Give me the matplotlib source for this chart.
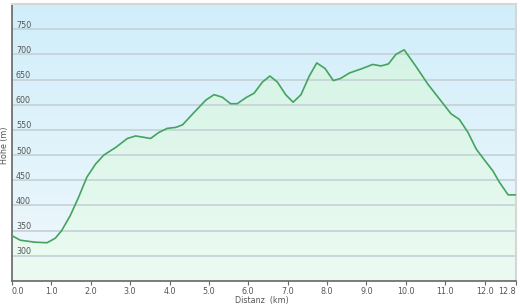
import matplotlib
matplotlib.use("Agg")
import matplotlib.pyplot as plt
import numpy as np
from matplotlib.colors import LinearSegmentedColormap

# Höhenprofil, Werte
distanz = [0.0, 0.21, 0.59, 0.89, 1.1, 1.26, 1.48, 1.69, 1.9, 2.12, 2.33, 2.63,
           2.93, 3.14, 3.52, 3.73, 3.94, 4.16, 4.33, 4.58, 4.92, 5.13, 5.34, 5.55,
           5.72, 5.94, 6.15, 6.36, 6.55, 6.74, 6.95, 7.14, 7.34, 7.55, 7.74, 7.95,
           8.16, 8.34, 8.57, 8.9, 9.16, 9.37, 9.56, 9.75, 9.96, 10.26, 10.56, 10.86,
           11.15, 11.36, 11.58, 11.79, 12.0, 12.21, 12.38, 12.6, 12.8]
hoehe = [340, 331, 327, 326, 335, 350, 380, 416, 456, 482, 500, 515,
         533, 538, 533, 545, 553, 555, 560, 581, 609, 620, 615, 602,
         602, 614, 623, 645, 657, 645, 620, 605, 620, 657, 683, 672,
         648, 652, 663, 672, 680, 677, 681, 700, 709, 676, 641, 611,
         582, 571, 545, 512, 490, 469, 446, 421, 421]

y_ticks = [300, 350, 400, 450, 500, 550, 600, 650, 700, 750]
x_ticks = [0, 1, 2, 3, 4, 5, 6, 7, 8, 9, 10, 11, 12, 12.8]
x_labels = ["0.0", "1.0", "2.0", "3.0", "4.0", "5.0", "6.0", "7.0", "8.0",
            "9.0", "10.0", "11.0", "12.0", "12.8"]

x0, x1 = 0, 12.8
y0, y1 = 250, 800

fig = plt.figure(figsize=(5.2, 3.06), dpi=100)
ax = fig.add_axes([12/520, 25/306, 504/520, 277/306])
ax.set_xlim(x0, x1)
ax.set_ylim(y0, y1)

# hintergrund: verlauf blau oben -> hell unten
bg = LinearSegmentedColormap.from_list("bg", ["#f0f8fc", "#d0eefa"])
grad = np.linspace(0, 1, 256).reshape(-1, 1)
ax.imshow(grad, cmap=bg, aspect="auto", origin="lower",
          extent=[x0, x1, y0, y1], zorder=0)

# fläche unter der kurve: grüner verlauf
gr = LinearSegmentedColormap.from_list("gr", ["#ecfbf2", "#d5f4e5"])
img = ax.imshow(grad, cmap=gr, aspect="auto", origin="lower",
                extent=[x0, x1, y0, max(hoehe)], zorder=1)
poly = ax.fill_between(distanz, hoehe, y0, color="none", lw=0)
img.set_clip_path(poly.get_paths()[0], transform=ax.transData)

for v in y_ticks:
    ax.axhline(v, color="#c6d4d9", lw=1.3, zorder=2)
    ax.text(0.1, v + 8, str(v), fontsize=5.8, color="#555555", va="center",
            ha="left", zorder=3)

ax.plot(distanz, hoehe, color="#45a35f", lw=1.2, zorder=4)

ax.set_yticks([])
ax.set_xticks(x_ticks)
ax.set_xticklabels(x_labels, fontsize=5.8, color="#555555")
ax.tick_params(axis="x", length=3, width=0.8, color="#666666", pad=1)
lbls = ax.get_xticklabels()
lbls[0].set_ha("left")
lbls[-1].set_ha("right")

for s in ["left", "bottom"]:
    ax.spines[s].set_color("#666666")
    ax.spines[s].set_linewidth(1.2)
for s in ["top", "right"]:
    ax.spines[s].set_color("#d6d6d6")
    ax.spines[s].set_linewidth(1.5)

fig.text(262/520, 1 - 300/306, "Distanz  (km)", fontsize=5.8,
         color="#555555", ha="center", va="center")
fig.text(5/520, 1 - 145/306, "Höhe (m)", rotation=90, fontsize=5.8,
         color="#555555", ha="center", va="center")

fig.savefig("out.png", dpi=100)
